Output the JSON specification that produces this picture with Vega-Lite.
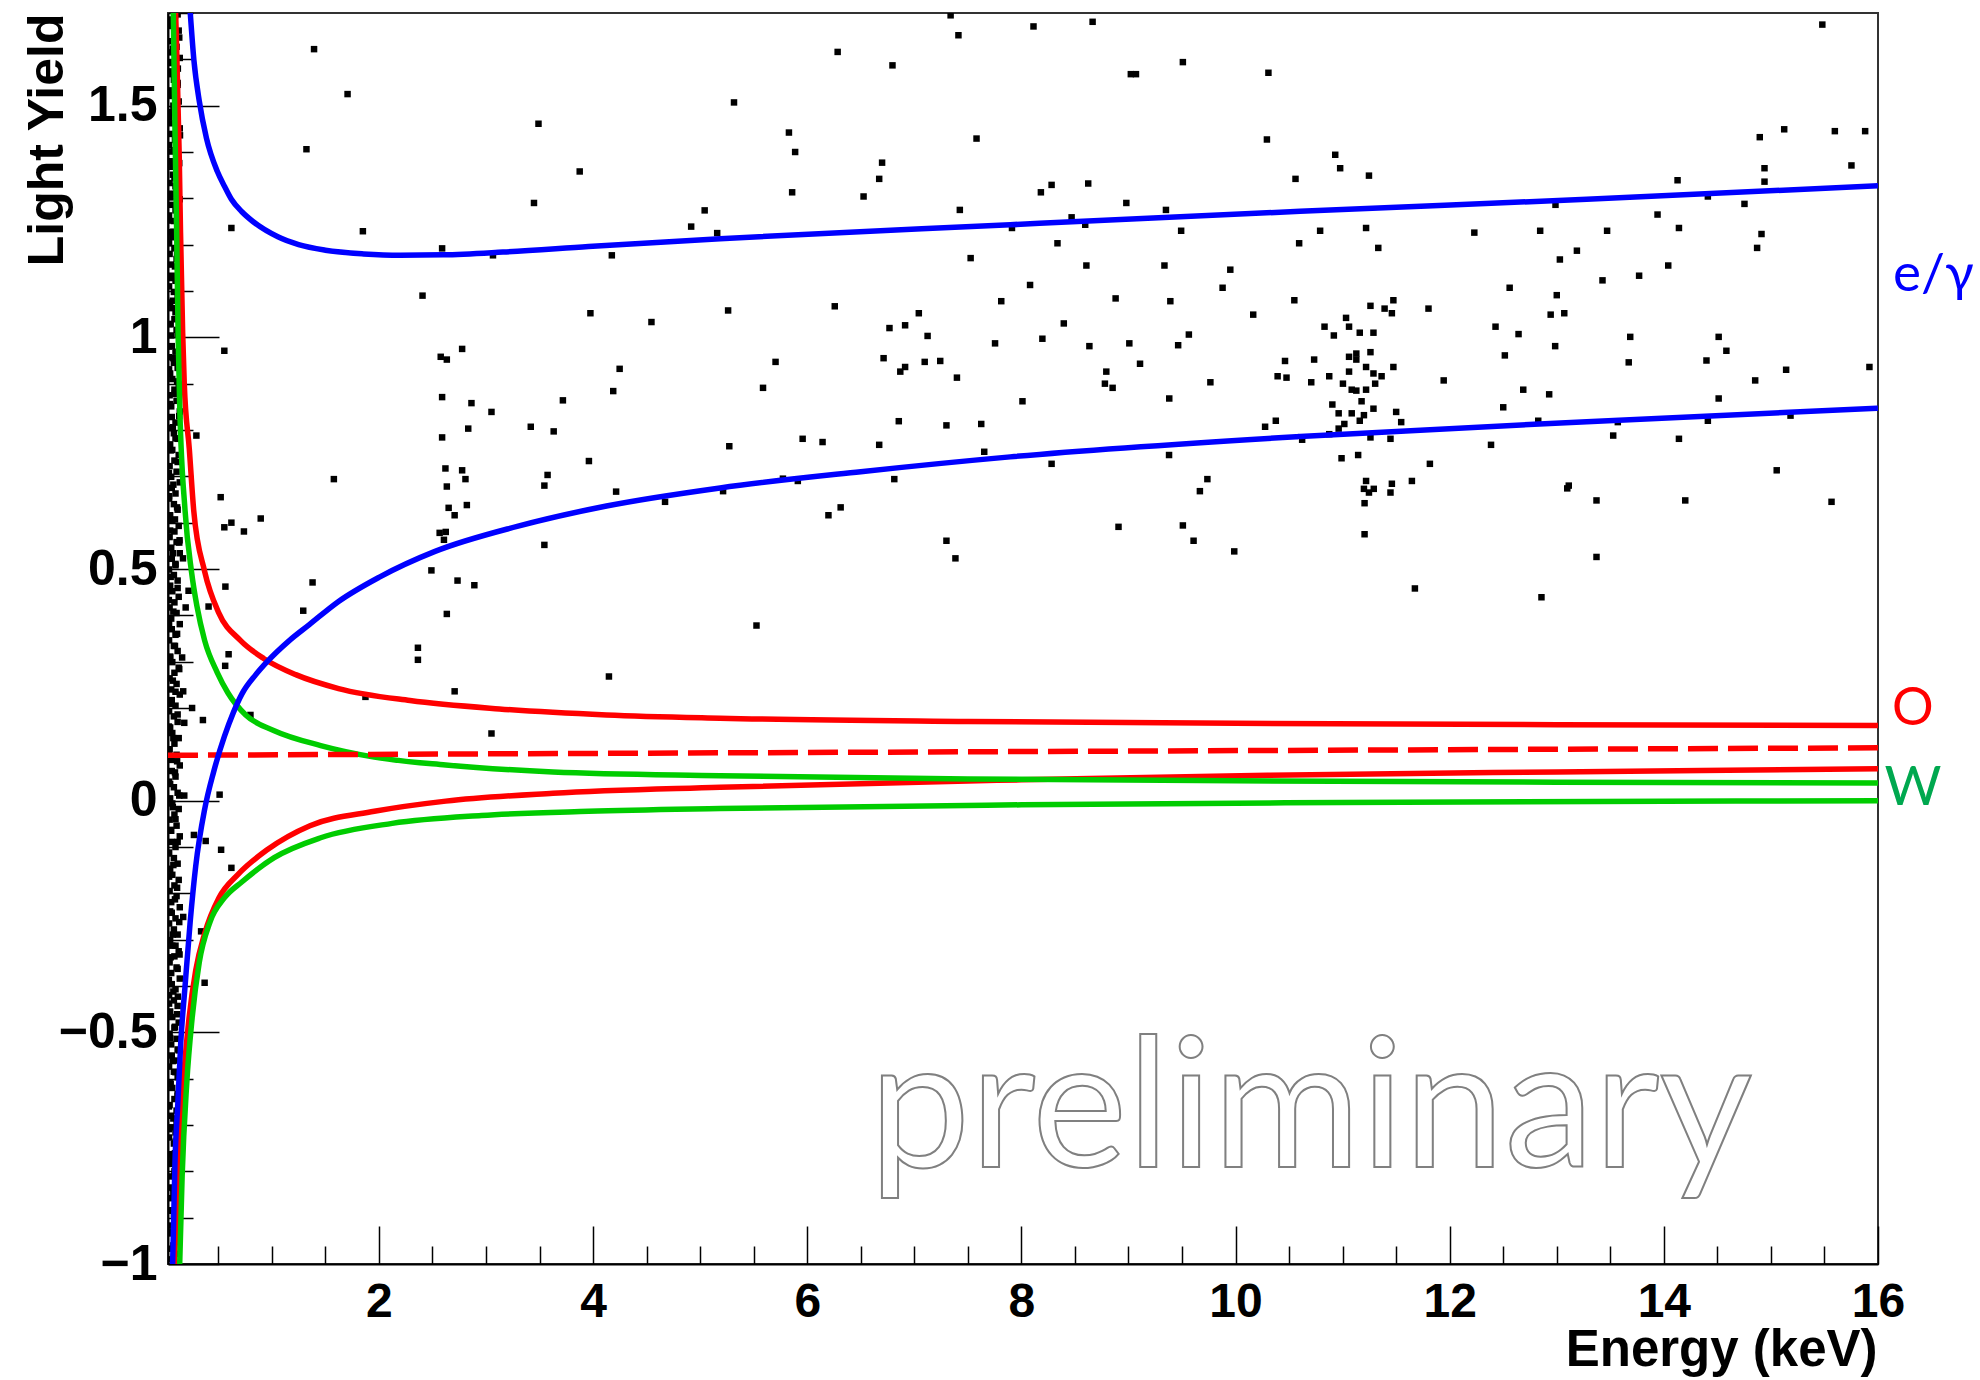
{
"$schema": "https://vega.github.io/schema/vega-lite/v6.json",
"width": 1710, "height": 1251,
"autosize": {"type": "none"},
"padding": {"left": 168, "top": 13, "right": 102, "bottom": 116},
"background": "white",
"config": {
 "view": {"stroke": "#333333", "strokeWidth": 2},
 "axis": {"grid": false, "domainColor": "#000000", "domainWidth": 2, "tickColor": "#000000", "tickWidth": 1.5, "labelColor": "#000000", "titleColor": "#000000", "labelFont": "Liberation Sans", "titleFont": "Liberation Sans", "labelFontWeight": "bold", "titleFontWeight": "bold", "labelOverlap": false, "labelFlush": false, "labelBound": false}
},
"datasets": {
 "curves": [
  {"c":"eU","x":0.235,"y":1.71},{"c":"eU","x":0.272,"y":1.598},{"c":"eU","x":0.322,"y":1.51},{"c":"eU","x":0.389,"y":1.43},{"c":"eU","x":0.489,"y":1.359},{"c":"eU","x":0.56,"y":1.325},{"c":"eU","x":0.622,"y":1.298},{"c":"eU","x":0.72,"y":1.271},{"c":"eU","x":0.823,"y":1.25},{"c":"eU","x":1.056,"y":1.217},{"c":"eU","x":1.25,"y":1.2},{"c":"eU","x":1.5,"y":1.188},{"c":"eU","x":1.857,"y":1.18},{"c":"eU","x":2.2,"y":1.177},{"c":"eU","x":2.6,"y":1.178},{"c":"eU","x":3.158,"y":1.184},{"c":"eU","x":3.958,"y":1.196},{"c":"eU","x":5.186,"y":1.213},{"c":"eU","x":7.895,"y":1.243},{"c":"eU","x":10.603,"y":1.272},{"c":"eU","x":13.28,"y":1.298},{"c":"eU","x":16,"y":1.327},
  {"c":"eL","x":0.072,"y":-1.01},{"c":"eL","x":0.082,"y":-0.914},{"c":"eL","x":0.095,"y":-0.782},{"c":"eL","x":0.122,"y":-0.653},{"c":"eL","x":0.149,"y":-0.523},{"c":"eL","x":0.189,"y":-0.401},{"c":"eL","x":0.237,"y":-0.262},{"c":"eL","x":0.289,"y":-0.141},{"c":"eL","x":0.372,"y":-0.019},{"c":"eL","x":0.456,"y":0.062},{"c":"eL","x":0.556,"y":0.138},{"c":"eL","x":0.64,"y":0.19},{"c":"eL","x":0.722,"y":0.231},{"c":"eL","x":0.85,"y":0.272},{"c":"eL","x":0.956,"y":0.3},{"c":"eL","x":1.16,"y":0.345},{"c":"eL","x":1.35,"y":0.38},{"c":"eL","x":1.623,"y":0.43},{"c":"eL","x":2.0,"y":0.482},{"c":"eL","x":2.524,"y":0.538},{"c":"eL","x":3.291,"y":0.592},{"c":"eL","x":4.125,"y":0.636},{"c":"eL","x":5.186,"y":0.675},{"c":"eL","x":6.5,"y":0.71},{"c":"eL","x":7.895,"y":0.742},{"c":"eL","x":10.603,"y":0.786},{"c":"eL","x":13.28,"y":0.818},{"c":"eL","x":16,"y":0.847},
  {"c":"OU","x":0.1,"y":1.71},{"c":"OU","x":0.11,"y":1.63},{"c":"OU","x":0.135,"y":1.39},{"c":"OU","x":0.147,"y":1.226},{"c":"OU","x":0.167,"y":1.01},{"c":"OU","x":0.182,"y":0.9},{"c":"OU","x":0.229,"y":0.759},{"c":"OU","x":0.27,"y":0.627},{"c":"OU","x":0.372,"y":0.495},{"c":"OU","x":0.503,"y":0.406},{"c":"OU","x":0.706,"y":0.346},{"c":"OU","x":0.923,"y":0.307},{"c":"OU","x":1.223,"y":0.272},{"c":"OU","x":1.623,"y":0.242},{"c":"OU","x":2.29,"y":0.216},{"c":"OU","x":3.124,"y":0.198},{"c":"OU","x":4.125,"y":0.185},{"c":"OU","x":5.186,"y":0.178},{"c":"OU","x":7.5,"y":0.171},{"c":"OU","x":10,"y":0.167},{"c":"OU","x":13,"y":0.164},{"c":"OU","x":16,"y":0.162},
  {"c":"OM","x":0.03,"y":0.098},{"c":"OM","x":3,"y":0.101},{"c":"OM","x":8,"y":0.106},{"c":"OM","x":16,"y":0.114},
  {"c":"OL","x":0.089,"y":-1.01},{"c":"OL","x":0.122,"y":-0.81},{"c":"OL","x":0.172,"y":-0.61},{"c":"OL","x":0.222,"y":-0.479},{"c":"OL","x":0.289,"y":-0.366},{"c":"OL","x":0.372,"y":-0.287},{"c":"OL","x":0.505,"y":-0.21},{"c":"OL","x":0.689,"y":-0.158},{"c":"OL","x":0.956,"y":-0.106},{"c":"OL","x":1.356,"y":-0.054},{"c":"OL","x":1.957,"y":-0.023},{"c":"OL","x":2.624,"y":-0.001},{"c":"OL","x":3.625,"y":0.016},{"c":"OL","x":5.186,"y":0.029},{"c":"OL","x":8,"y":0.045},{"c":"OL","x":10.3,"y":0.055},{"c":"OL","x":13,"y":0.062},{"c":"OL","x":16,"y":0.069},
  {"c":"WU","x":0.079,"y":1.71},{"c":"WU","x":0.095,"y":1.45},{"c":"WU","x":0.11,"y":1.24},{"c":"WU","x":0.125,"y":1.0},{"c":"WU","x":0.14,"y":0.848},{"c":"WU","x":0.189,"y":0.627},{"c":"WU","x":0.249,"y":0.495},{"c":"WU","x":0.3,"y":0.42},{"c":"WU","x":0.372,"y":0.346},{"c":"WU","x":0.489,"y":0.277},{"c":"WU","x":0.589,"y":0.233},{"c":"WU","x":0.756,"y":0.185},{"c":"WU","x":1.022,"y":0.151},{"c":"WU","x":1.456,"y":0.119},{"c":"WU","x":1.957,"y":0.094},{"c":"WU","x":2.624,"y":0.077},{"c":"WU","x":3.625,"y":0.062},{"c":"WU","x":5.186,"y":0.054},{"c":"WU","x":7.5,"y":0.047},{"c":"WU","x":10,"y":0.043},{"c":"WU","x":13,"y":0.04},{"c":"WU","x":16,"y":0.038},
  {"c":"WL","x":0.138,"y":-1.01},{"c":"WL","x":0.162,"y":-0.81},{"c":"WL","x":0.205,"y":-0.61},{"c":"WL","x":0.255,"y":-0.47},{"c":"WL","x":0.322,"y":-0.349},{"c":"WL","x":0.422,"y":-0.262},{"c":"WL","x":0.556,"y":-0.21},{"c":"WL","x":0.722,"y":-0.175},{"c":"WL","x":1.022,"y":-0.123},{"c":"WL","x":1.456,"y":-0.08},{"c":"WL","x":2.124,"y":-0.049},{"c":"WL","x":2.957,"y":-0.032},{"c":"WL","x":3.958,"y":-0.023},{"c":"WL","x":5.186,"y":-0.017},{"c":"WL","x":8,"y":-0.009},{"c":"WL","x":11,"y":-0.004},{"c":"WL","x":16,"y":0.0}
 ],
 "pts": [
  {"x":1.394,"y":1.622},{"x":1.707,"y":1.525},{"x":3.49,"y":1.461},{"x":1.323,"y":1.406},{"x":3.875,"y":1.358},{"x":3.448,"y":1.29},{"x":5.042,"y":1.274},{"x":4.916,"y":1.239},{"x":5.159,"y":1.225},{"x":0.622,"y":1.236},{"x":1.85,"y":1.229},{"x":2.59,"y":1.192},{"x":3.065,"y":1.177},{"x":4.175,"y":1.177},{"x":2.407,"y":1.09},{"x":3.975,"y":1.052},{"x":4.545,"y":1.033},{"x":0.556,"y":0.971},{"x":2.777,"y":0.975},{"x":2.577,"y":0.958},{"x":2.634,"y":0.952},{"x":4.248,"y":0.932},{"x":2.59,"y":0.871},{"x":2.864,"y":0.858},{"x":4.188,"y":0.884},{"x":3.718,"y":0.864},{"x":3.051,"y":0.839},{"x":2.834,"y":0.803},{"x":3.418,"y":0.807},{"x":3.632,"y":0.797},{"x":0.295,"y":0.788},{"x":2.59,"y":0.784},{"x":2.621,"y":0.717},{"x":2.777,"y":0.713},{"x":2.808,"y":0.694},{"x":1.579,"y":0.694},{"x":2.634,"y":0.678},{"x":3.961,"y":0.733},{"x":3.575,"y":0.703},{"x":3.545,"y":0.68},{"x":4.215,"y":0.667},{"x":4.672,"y":0.645},{"x":0.522,"y":0.655},{"x":2.821,"y":0.638},{"x":2.651,"y":0.632},{"x":2.707,"y":0.616},{"x":0.896,"y":0.609},{"x":0.622,"y":0.6},{"x":0.556,"y":0.59},{"x":0.739,"y":0.581},{"x":2.567,"y":0.578},{"x":2.624,"y":0.58},{"x":2.607,"y":0.563},{"x":3.545,"y":0.552},{"x":2.49,"y":0.497},{"x":2.734,"y":0.475},{"x":2.891,"y":0.465},{"x":1.38,"y":0.471},{"x":0.566,"y":0.462},{"x":1.293,"y":0.41},{"x":2.634,"y":0.403},{"x":0.409,"y":0.419},{"x":0.195,"y":0.417},{"x":0.222,"y":0.453},{"x":0.138,"y":0.562},{"x":0.17,"y":0.523},{"x":0.142,"y":1.436},{"x":0.122,"y":1.58},{"x":0.095,"y":0.878},
  {"x":2.364,"y":0.33},{"x":2.364,"y":0.304},{"x":4.148,"y":0.268},{"x":2.707,"y":0.236},{"x":3.051,"y":0.145},{"x":0.596,"y":0.316},{"x":0.564,"y":0.291},{"x":0.162,"y":0.309},{"x":0.172,"y":0.236},{"x":0.255,"y":0.2},{"x":0.356,"y":0.174},{"x":0.182,"y":0.168},{"x":0.8,"y":0.185},{"x":1.874,"y":0.224},{"x":0.182,"y":0.011},{"x":0.512,"y":0.013},{"x":0.272,"y":-0.074},{"x":0.382,"y":-0.087},{"x":0.526,"y":-0.106},{"x":0.622,"y":-0.145},{"x":0.172,"y":-0.251},{"x":0.339,"y":-0.282},{"x":0.138,"y":-0.332},{"x":0.372,"y":-0.393},{"x":0.122,"y":-0.423},
  {"x":7.339,"y":1.695},{"x":7.412,"y":1.652},{"x":8.113,"y":1.671},{"x":8.665,"y":1.681},{"x":6.284,"y":1.616},{"x":6.796,"y":1.587},{"x":9.508,"y":1.594},{"x":9.022,"y":1.568},{"x":9.07,"y":1.568},{"x":10.307,"y":1.571},{"x":5.316,"y":1.507},{"x":5.829,"y":1.442},{"x":5.887,"y":1.4},{"x":7.581,"y":1.429},{"x":10.293,"y":1.427},{"x":6.699,"y":1.377},{"x":6.672,"y":1.342},{"x":5.859,"y":1.313},{"x":6.526,"y":1.304},{"x":8.182,"y":1.313},{"x":8.282,"y":1.329},{"x":8.624,"y":1.332},{"x":10.56,"y":1.342},{"x":7.425,"y":1.275},{"x":8.98,"y":1.29},{"x":9.35,"y":1.275},{"x":8.469,"y":1.259},{"x":7.912,"y":1.236},{"x":8.596,"y":1.243},{"x":9.492,"y":1.23},{"x":8.337,"y":1.203},{"x":10.594,"y":1.203},{"x":7.526,"y":1.171},{"x":8.607,"y":1.155},{"x":9.336,"y":1.155},{"x":9.951,"y":1.146},{"x":8.081,"y":1.113},{"x":9.879,"y":1.107},{"x":7.812,"y":1.078},{"x":8.88,"y":1.084},{"x":9.391,"y":1.078},{"x":10.549,"y":1.08},{"x":5.261,"y":1.058},{"x":6.257,"y":1.067},{"x":7.042,"y":1.052},{"x":10.165,"y":1.049},{"x":8.396,"y":1.03},{"x":6.768,"y":1.02},{"x":6.914,"y":1.026},{"x":7.124,"y":1.003},{"x":8.196,"y":0.997},{"x":9.564,"y":1.006},{"x":7.754,"y":0.987},{"x":8.635,"y":0.981},{"x":9.008,"y":0.987},{"x":9.464,"y":0.983},{"x":5.704,"y":0.947},{"x":6.713,"y":0.955},{"x":7.097,"y":0.947},{"x":7.242,"y":0.949},{"x":6.914,"y":0.936},{"x":6.869,"y":0.926},{"x":9.108,"y":0.943},{"x":10.462,"y":0.949},{"x":8.793,"y":0.926},{"x":7.398,"y":0.913},{"x":8.78,"y":0.9},{"x":8.852,"y":0.891},{"x":9.765,"y":0.903},{"x":10.393,"y":0.916},{"x":10.476,"y":0.913},{"x":5.587,"y":0.891},{"x":8.01,"y":0.862},{"x":9.381,"y":0.868},{"x":6.855,"y":0.819},{"x":7.3,"y":0.81},{"x":7.625,"y":0.813},{"x":10.376,"y":0.82},{"x":10.276,"y":0.807},{"x":5.957,"y":0.781},{"x":6.143,"y":0.774},{"x":6.672,"y":0.768},{"x":5.272,"y":0.765},{"x":7.653,"y":0.753},{"x":9.379,"y":0.746},{"x":8.282,"y":0.727},{"x":9.737,"y":0.694},{"x":9.667,"y":0.668},{"x":6.813,"y":0.694},{"x":5.773,"y":0.695},{"x":5.912,"y":0.69},{"x":5.214,"y":0.668},{"x":6.198,"y":0.616},{"x":6.312,"y":0.633},{"x":8.907,"y":0.591},{"x":9.508,"y":0.594},{"x":9.608,"y":0.561},{"x":9.988,"y":0.538},{"x":7.3,"y":0.561},{"x":7.384,"y":0.523},{"x":5.526,"y":0.378},
  {"x":15.48,"y":1.675},{"x":14.896,"y":1.432},{"x":15.124,"y":1.449},{"x":15.597,"y":1.445},{"x":15.88,"y":1.445},{"x":14.94,"y":1.365},{"x":15.752,"y":1.371},{"x":14.94,"y":1.336},{"x":10.931,"y":1.394},{"x":10.977,"y":1.365},{"x":11.246,"y":1.349},{"x":14.128,"y":1.339},{"x":14.411,"y":1.304},{"x":14.753,"y":1.288},{"x":12.988,"y":1.286},{"x":13.941,"y":1.265},{"x":14.141,"y":1.236},{"x":14.912,"y":1.223},{"x":14.871,"y":1.193},{"x":10.79,"y":1.23},{"x":11.219,"y":1.236},{"x":11.333,"y":1.193},{"x":12.23,"y":1.226},{"x":12.845,"y":1.23},{"x":13.47,"y":1.23},{"x":13.188,"y":1.187},{"x":13.029,"y":1.168},{"x":14.041,"y":1.155},{"x":13.769,"y":1.133},{"x":13.427,"y":1.123},{"x":12.56,"y":1.107},{"x":13.0,"y":1.091},{"x":11.474,"y":1.08},{"x":11.26,"y":1.068},{"x":11.392,"y":1.062},{"x":11.46,"y":1.052},{"x":11.802,"y":1.062},{"x":12.943,"y":1.049},{"x":13.07,"y":1.052},{"x":11.032,"y":1.042},{"x":10.831,"y":1.023},{"x":11.06,"y":1.023},{"x":10.918,"y":1.004},{"x":11.16,"y":1.01},{"x":11.288,"y":1.01},{"x":12.428,"y":1.023},{"x":12.643,"y":1.007},{"x":12.985,"y":0.981},{"x":13.686,"y":1.001},{"x":14.512,"y":1.001},{"x":14.584,"y":0.971},{"x":10.734,"y":0.952},{"x":11.06,"y":0.958},{"x":11.128,"y":0.965},{"x":11.128,"y":0.952},{"x":11.26,"y":0.968},{"x":12.515,"y":0.961},{"x":13.672,"y":0.946},{"x":14.398,"y":0.95},{"x":15.92,"y":0.936},{"x":15.142,"y":0.93},{"x":10.875,"y":0.916},{"x":11.06,"y":0.926},{"x":11.219,"y":0.936},{"x":11.288,"y":0.922},{"x":11.364,"y":0.916},{"x":11.474,"y":0.936},{"x":10.707,"y":0.903},{"x":11.003,"y":0.9},{"x":11.304,"y":0.9},{"x":11.944,"y":0.907},{"x":11.085,"y":0.887},{"x":11.128,"y":0.885},{"x":11.219,"y":0.887},{"x":14.853,"y":0.907},{"x":12.687,"y":0.887},{"x":12.929,"y":0.877},{"x":11.177,"y":0.862},{"x":10.904,"y":0.855},{"x":14.512,"y":0.868},{"x":12.5,"y":0.849},{"x":11.288,"y":0.846},{"x":10.963,"y":0.836},{"x":11.085,"y":0.836},{"x":11.199,"y":0.832},{"x":11.5,"y":0.839},{"x":11.16,"y":0.82},{"x":11.547,"y":0.817},{"x":11.016,"y":0.813},{"x":10.963,"y":0.803},{"x":10.875,"y":0.791},{"x":11.26,"y":0.784},{"x":11.447,"y":0.781},{"x":10.622,"y":0.779},{"x":12.827,"y":0.82},{"x":13.57,"y":0.817},{"x":14.411,"y":0.82},{"x":15.183,"y":0.831},{"x":13.527,"y":0.788},{"x":14.141,"y":0.781},{"x":12.386,"y":0.768},{"x":10.99,"y":0.739},{"x":11.145,"y":0.746},{"x":11.815,"y":0.727},{"x":15.054,"y":0.713},{"x":11.219,"y":0.69},{"x":11.46,"y":0.684},{"x":11.647,"y":0.69},{"x":11.199,"y":0.673},{"x":11.246,"y":0.665},{"x":11.291,"y":0.673},{"x":11.447,"y":0.665},{"x":11.205,"y":0.642},{"x":13.112,"y":0.68},{"x":13.098,"y":0.674},{"x":13.371,"y":0.648},{"x":14.2,"y":0.648},{"x":15.566,"y":0.645},{"x":11.205,"y":0.575},{"x":13.371,"y":0.526},{"x":11.675,"y":0.458},{"x":12.857,"y":0.439},
  {"x":0.06,"y":-0.99},{"x":0.11,"y":-0.978},{"x":0.045,"y":-0.967},{"x":0.09,"y":-0.952},{"x":0.1,"y":-0.941},{"x":0.07,"y":-0.93},{"x":0.05,"y":-0.917},{"x":0.1,"y":-0.906},{"x":0.085,"y":-0.893},{"x":0.04,"y":-0.884},{"x":0.1,"y":-0.871},{"x":0.065,"y":-0.858},{"x":0.08,"y":-0.846},
  {"x":0.06,"y":-0.835},{"x":0.11,"y":-0.822},{"x":0.045,"y":-0.811},{"x":0.09,"y":-0.8},{"x":0.1,"y":-0.786},{"x":0.07,"y":-0.776},{"x":0.05,"y":-0.763},{"x":0.12,"y":-0.752},{"x":0.085,"y":-0.74},{"x":0.04,"y":-0.727},{"x":0.1,"y":-0.716},{"x":0.065,"y":-0.705},{"x":0.11,"y":-0.692},
  {"x":0.06,"y":-0.68},{"x":0.11,"y":-0.669},{"x":0.045,"y":-0.657},{"x":0.09,"y":-0.644},{"x":0.12,"y":-0.633},{"x":0.07,"y":-0.62},{"x":0.05,"y":-0.61},{"x":0.12,"y":-0.597},{"x":0.085,"y":-0.585},{"x":0.04,"y":-0.574},{"x":0.1,"y":-0.561},{"x":0.065,"y":-0.55},{"x":0.13,"y":-0.539},
  {"x":0.06,"y":-0.526},{"x":0.11,"y":-0.514},{"x":0.045,"y":-0.503},{"x":0.09,"y":-0.49},{"x":0.13,"y":-0.479},{"x":0.07,"y":-0.467},{"x":0.05,"y":-0.455},{"x":0.12,"y":-0.443},{"x":0.085,"y":-0.431},{"x":0.04,"y":-0.42},{"x":0.1,"y":-0.407},{"x":0.065,"y":-0.396},{"x":0.14,"y":-0.384},
  {"x":0.06,"y":-0.372},{"x":0.11,"y":-0.36},{"x":0.045,"y":-0.349},{"x":0.09,"y":-0.336},{"x":0.13,"y":-0.325},{"x":0.07,"y":-0.313},{"x":0.05,"y":-0.301},{"x":0.12,"y":-0.289},{"x":0.085,"y":-0.278},{"x":0.04,"y":-0.265},{"x":0.1,"y":-0.254},{"x":0.065,"y":-0.242},{"x":0.14,"y":-0.23},
  {"x":0.06,"y":-0.219},{"x":0.11,"y":-0.206},{"x":0.045,"y":-0.195},{"x":0.09,"y":-0.183},{"x":0.13,"y":-0.171},{"x":0.07,"y":-0.16},{"x":0.05,"y":-0.147},{"x":0.12,"y":-0.136},{"x":0.085,"y":-0.124},{"x":0.04,"y":-0.112},{"x":0.1,"y":-0.1},{"x":0.065,"y":-0.089},{"x":0.14,"y":-0.077},
  {"x":0.06,"y":-0.065},{"x":0.11,"y":-0.054},{"x":0.045,"y":-0.041},{"x":0.09,"y":-0.03},{"x":0.13,"y":-0.018},{"x":0.07,"y":-0.006},{"x":0.05,"y":0.005},{"x":0.12,"y":0.017},{"x":0.085,"y":0.029},{"x":0.04,"y":0.041},{"x":0.1,"y":0.052},{"x":0.065,"y":0.064},{"x":0.14,"y":0.076},
  {"x":0.06,"y":0.088},{"x":0.11,"y":0.099},{"x":0.045,"y":0.111},{"x":0.09,"y":0.123},{"x":0.13,"y":0.135},{"x":0.07,"y":0.146},{"x":0.05,"y":0.158},{"x":0.12,"y":0.17},{"x":0.085,"y":0.182},{"x":0.04,"y":0.193},{"x":0.1,"y":0.205},{"x":0.065,"y":0.217},{"x":0.14,"y":0.229},
  {"x":0.06,"y":0.24},{"x":0.11,"y":0.252},{"x":0.045,"y":0.264},{"x":0.09,"y":0.276},{"x":0.13,"y":0.287},{"x":0.07,"y":0.299},{"x":0.05,"y":0.311},{"x":0.12,"y":0.323},{"x":0.085,"y":0.334},{"x":0.04,"y":0.346},{"x":0.1,"y":0.358},{"x":0.065,"y":0.37},{"x":0.14,"y":0.381},
  {"x":0.06,"y":0.393},{"x":0.11,"y":0.405},{"x":0.045,"y":0.417},{"x":0.09,"y":0.428},{"x":0.13,"y":0.44},{"x":0.07,"y":0.452},{"x":0.05,"y":0.464},{"x":0.12,"y":0.475},{"x":0.085,"y":0.487},{"x":0.04,"y":0.499},{"x":0.1,"y":0.511},{"x":0.065,"y":0.522},{"x":0.14,"y":0.534},
  {"x":0.06,"y":0.546},{"x":0.11,"y":0.558},{"x":0.045,"y":0.569},{"x":0.09,"y":0.581},{"x":0.13,"y":0.593},{"x":0.07,"y":0.605},{"x":0.05,"y":0.616},{"x":0.12,"y":0.628},{"x":0.085,"y":0.64},{"x":0.04,"y":0.652},{"x":0.1,"y":0.663},{"x":0.065,"y":0.675},{"x":0.14,"y":0.687},
  {"x":0.06,"y":0.699},{"x":0.11,"y":0.71},{"x":0.045,"y":0.722},{"x":0.09,"y":0.734},{"x":0.13,"y":0.746},{"x":0.07,"y":0.757},{"x":0.05,"y":0.769},{"x":0.12,"y":0.781},{"x":0.085,"y":0.793},{"x":0.04,"y":0.804},{"x":0.1,"y":0.816},{"x":0.065,"y":0.828},{"x":0.14,"y":0.84},
  {"x":0.06,"y":0.851},{"x":0.11,"y":0.863},{"x":0.045,"y":0.875},{"x":0.09,"y":0.887},{"x":0.13,"y":0.898},{"x":0.07,"y":0.91},{"x":0.05,"y":0.922},{"x":0.12,"y":0.934},{"x":0.085,"y":0.945},{"x":0.04,"y":0.957},{"x":0.1,"y":0.969},{"x":0.065,"y":0.981},{"x":0.14,"y":0.992},
  {"x":0.06,"y":1.004},{"x":0.11,"y":1.016},{"x":0.045,"y":1.028},{"x":0.09,"y":1.039},{"x":0.13,"y":1.051},{"x":0.07,"y":1.063},{"x":0.05,"y":1.075},{"x":0.12,"y":1.086},{"x":0.085,"y":1.098},{"x":0.04,"y":1.11},{"x":0.1,"y":1.122},{"x":0.065,"y":1.133},{"x":0.14,"y":1.145},
  {"x":0.06,"y":1.157},{"x":0.11,"y":1.169},{"x":0.045,"y":1.18},{"x":0.09,"y":1.192},{"x":0.13,"y":1.204},{"x":0.07,"y":1.216},{"x":0.05,"y":1.227},{"x":0.12,"y":1.239},{"x":0.085,"y":1.251},{"x":0.04,"y":1.263},{"x":0.1,"y":1.274},{"x":0.065,"y":1.286},{"x":0.14,"y":1.298},
  {"x":0.06,"y":1.31},{"x":0.11,"y":1.321},{"x":0.045,"y":1.333},{"x":0.09,"y":1.345},{"x":0.13,"y":1.357},{"x":0.07,"y":1.368},{"x":0.05,"y":1.38},{"x":0.12,"y":1.392},{"x":0.085,"y":1.404},{"x":0.04,"y":1.415},{"x":0.1,"y":1.427},{"x":0.065,"y":1.439},{"x":0.14,"y":1.451},
  {"x":0.06,"y":1.462},{"x":0.11,"y":1.474},{"x":0.045,"y":1.486},{"x":0.09,"y":1.498},{"x":0.13,"y":1.509},{"x":0.07,"y":1.521},{"x":0.05,"y":1.533},{"x":0.12,"y":1.545},{"x":0.085,"y":1.556},{"x":0.04,"y":1.568},{"x":0.1,"y":1.58},{"x":0.065,"y":1.592},{"x":0.14,"y":1.603},
  {"x":0.06,"y":1.615},{"x":0.11,"y":1.627},{"x":0.045,"y":1.639},{"x":0.09,"y":1.65},{"x":0.13,"y":1.662},{"x":0.07,"y":1.674},{"x":0.05,"y":1.686},{"x":0.12,"y":1.697},
  {"x":0.08,"y":-0.96},{"x":0.038,"y":-0.934},{"x":0.1,"y":-0.911},{"x":0.055,"y":-0.885},{"x":0.1,"y":-0.858},{"x":0.075,"y":-0.836},{"x":0.09,"y":-0.81},{"x":0.05,"y":-0.784},{"x":0.095,"y":-0.761},{"x":0.1,"y":-0.736},{"x":0.04,"y":-0.709},
  {"x":0.08,"y":-0.686},{"x":0.038,"y":-0.66},{"x":0.12,"y":-0.637},{"x":0.055,"y":-0.611},{"x":0.1,"y":-0.586},{"x":0.075,"y":-0.562},{"x":0.12,"y":-0.537},{"x":0.05,"y":-0.512},{"x":0.095,"y":-0.488},{"x":0.115,"y":-0.461},{"x":0.04,"y":-0.438},
  {"x":0.08,"y":-0.412},{"x":0.038,"y":-0.387},{"x":0.12,"y":-0.363},{"x":0.055,"y":-0.338},{"x":0.1,"y":-0.313},{"x":0.075,"y":-0.289},{"x":0.135,"y":-0.262},{"x":0.05,"y":-0.239},{"x":0.095,"y":-0.213},{"x":0.115,"y":-0.188},{"x":0.04,"y":-0.164},
  {"x":0.08,"y":-0.139},{"x":0.038,"y":-0.114},{"x":0.12,"y":-0.089},{"x":0.055,"y":-0.063},{"x":0.1,"y":-0.04},{"x":0.075,"y":-0.014},{"x":0.135,"y":0.011},{"x":0.05,"y":0.036},{"x":0.095,"y":0.061},{"x":0.115,"y":0.085},{"x":0.04,"y":0.11},
  {"x":0.08,"y":0.135},{"x":0.038,"y":0.16},{"x":0.12,"y":0.186},{"x":0.055,"y":0.209},{"x":0.1,"y":0.235},{"x":0.075,"y":0.259},{"x":0.135,"y":0.284},{"x":0.05,"y":0.309},{"x":0.095,"y":0.334},{"x":0.115,"y":0.36},{"x":0.04,"y":0.384},
  {"x":0.08,"y":0.408},{"x":0.038,"y":0.433},{"x":0.12,"y":0.459},{"x":0.055,"y":0.483},{"x":0.1,"y":0.508},{"x":0.075,"y":0.534},{"x":0.135,"y":0.557},{"x":0.05,"y":0.583},{"x":0.095,"y":0.607},{"x":0.115,"y":0.633},{"x":0.04,"y":0.657},
  {"x":0.08,"y":0.682},{"x":0.038,"y":0.707},{"x":0.12,"y":0.731},{"x":0.055,"y":0.756},{"x":0.1,"y":0.782},{"x":0.075,"y":0.806},{"x":0.135,"y":0.83},{"x":0.05,"y":0.856},{"x":0.095,"y":0.88},{"x":0.115,"y":0.905},{"x":0.04,"y":0.931},
  {"x":0.08,"y":0.955},{"x":0.038,"y":0.98},{"x":0.12,"y":1.005},{"x":0.055,"y":1.029},{"x":0.1,"y":1.054},{"x":0.075,"y":1.079},{"x":0.135,"y":1.104},{"x":0.05,"y":1.128},{"x":0.095,"y":1.153},{"x":0.115,"y":1.178},{"x":0.04,"y":1.203},
  {"x":0.08,"y":1.228},{"x":0.038,"y":1.252},{"x":0.12,"y":1.277},{"x":0.055,"y":1.302},{"x":0.1,"y":1.326},{"x":0.075,"y":1.351},{"x":0.135,"y":1.376},{"x":0.05,"y":1.401},{"x":0.095,"y":1.426},{"x":0.115,"y":1.45},{"x":0.04,"y":1.475},
  {"x":0.08,"y":1.5},{"x":0.038,"y":1.524},{"x":0.12,"y":1.549},{"x":0.055,"y":1.574},{"x":0.1,"y":1.598},{"x":0.075,"y":1.623},{"x":0.135,"y":1.647},{"x":0.05,"y":1.672},{"x":0.095,"y":1.694}
 ]
},
"layer": [
 {
  "data": {"name": "pts"},
  "mark": {"type": "square", "filled": true, "size": 42, "color": "#000000", "opacity": 1, "clip": true},
  "encoding": {
   "x": {"field": "x", "type": "quantitative",
    "scale": {"domain": [0.03, 16], "nice": false, "zero": false},
    "axis": {
     "values": [0.5,1,1.5,2,2.5,3,3.5,4,4.5,5,5.5,6,6.5,7,7.5,8,8.5,9,9.5,10,10.5,11,11.5,12,12.5,13,13.5,14,14.5,15,15.5,16],
     "labelExpr": "datum.value % 2 === 0 ? format(datum.value, 'd') : ''",
     "tickSize": {"condition": {"test": "datum.value % 2 === 0", "value": -38}, "value": -18},
     "labelPadding": 52, "labelFontSize": 48,
     "title": "Energy (keV)", "titleFontSize": 51, "titleX": 1709, "titleY": 101, "titleAlign": "right", "titleBaseline": "alphabetic", "titleAngle": 0
    }},
   "y": {"field": "y", "type": "quantitative",
    "scale": {"domain": [-1, 1.7], "nice": false, "zero": false},
    "axis": {
     "values": [-1,-0.9,-0.8,-0.7,-0.6,-0.5,-0.4,-0.3,-0.2,-0.1,0,0.1,0.2,0.3,0.4,0.5,0.6,0.7,0.8,0.9,1,1.1,1.2,1.3,1.4,1.5,1.6,1.7],
     "labelExpr": "abs(datum.value*2 - round(datum.value*2)) < 0.001 ? format(datum.value, '~g') : ''",
     "tickSize": {"condition": {"test": "abs(datum.value*2 - round(datum.value*2)) < 0.001", "value": -51}, "value": -25},
     "labelPadding": 62, "labelFontSize": 50,
     "title": "Light Yield", "titleFontSize": 50, "titleX": -106, "titleY": 0, "titleAlign": "right", "titleBaseline": "alphabetic", "titleAngle": 270
    }}
  }
 },
 {
  "data": {"name": "curves"},
  "transform": [{"filter": "datum.c === 'OU' || datum.c === 'OL'"}],
  "mark": {"type": "line", "color": "#ff0000", "strokeWidth": 5.5, "interpolate": "monotone", "clip": true},
  "encoding": {"x": {"field": "x", "type": "quantitative"}, "y": {"field": "y", "type": "quantitative"}, "detail": {"field": "c"}}
 },
 {
  "data": {"name": "curves"},
  "transform": [{"filter": "datum.c === 'WU' || datum.c === 'WL'"}],
  "mark": {"type": "line", "color": "#00cc00", "strokeWidth": 5.5, "interpolate": "monotone", "clip": true},
  "encoding": {"x": {"field": "x", "type": "quantitative"}, "y": {"field": "y", "type": "quantitative"}, "detail": {"field": "c"}}
 },
 {
  "data": {"name": "curves"},
  "transform": [{"filter": "datum.c === 'OM'"}],
  "mark": {"type": "line", "color": "#ff0000", "strokeWidth": 5.5, "strokeDash": [30, 10], "clip": true},
  "encoding": {"x": {"field": "x", "type": "quantitative"}, "y": {"field": "y", "type": "quantitative"}}
 },
 {
  "data": {"name": "curves"},
  "transform": [{"filter": "datum.c === 'eU' || datum.c === 'eL'"}],
  "mark": {"type": "line", "color": "#0000ff", "strokeWidth": 5.5, "interpolate": "monotone", "clip": true},
  "encoding": {"x": {"field": "x", "type": "quantitative"}, "y": {"field": "y", "type": "quantitative"}, "detail": {"field": "c"}}
 },
 {
  "data": {"values": [{}]},
  "mark": {"type": "text", "text": "preliminary", "font": "Lato", "fontWeight": 400, "fontSize": 180, "align": "left", "baseline": "alphabetic", "fill": "#ffffff", "stroke": "#808080", "strokeWidth": 2},
  "encoding": {"x": {"datum": 6.58, "type": "quantitative"}, "y": {"datum": -0.79, "type": "quantitative"}}
 },
 {
  "data": {"values": [{}]},
  "mark": {"type": "text", "text": "e/γ", "font": "Lato, DejaVu Sans", "fontSize": 53, "align": "left", "baseline": "alphabetic", "fill": "#0000ff"},
  "encoding": {"x": {"datum": 16.14, "type": "quantitative"}, "y": {"datum": 1.099, "type": "quantitative"}}
 },
 {
  "data": {"values": [{}]},
  "mark": {"type": "text", "text": "O", "font": "Lato, DejaVu Sans", "fontSize": 52, "align": "left", "baseline": "alphabetic", "fill": "#ff0000"},
  "encoding": {"x": {"datum": 16.13, "type": "quantitative"}, "y": {"datum": 0.164, "type": "quantitative"}}
 },
 {
  "data": {"values": [{}]},
  "mark": {"type": "text", "text": "W", "font": "Lato, DejaVu Sans", "fontSize": 55, "align": "left", "baseline": "alphabetic", "fill": "#00a84f"},
  "encoding": {"x": {"datum": 16.06, "type": "quantitative"}, "y": {"datum": -0.009, "type": "quantitative"}}
 }
]
}
